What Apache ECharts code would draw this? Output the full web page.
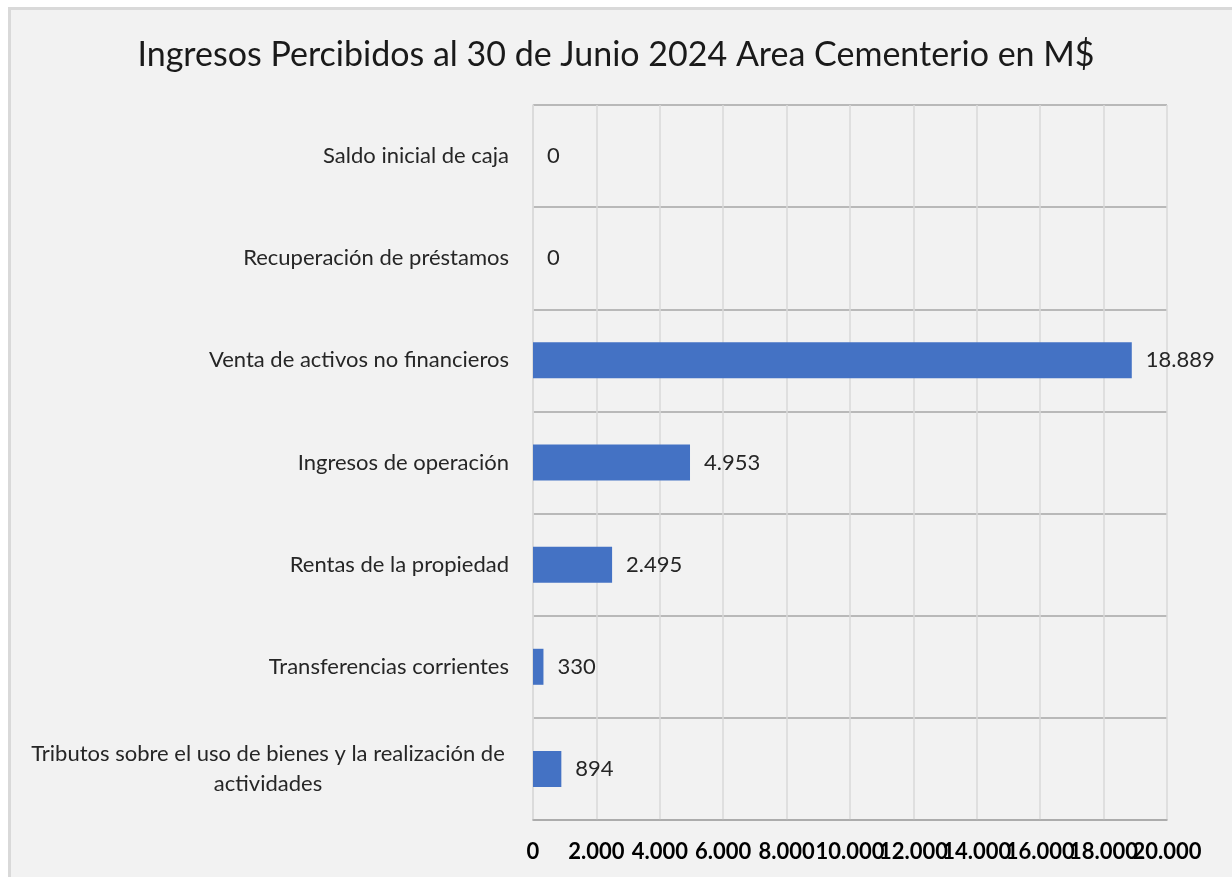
<!DOCTYPE html>
<html>
<head>
<meta charset="utf-8">
<script src="https://cdn.jsdelivr.net/npm/echarts@6/dist/echarts.min.js"></script>
<style>
  html, body { margin: 0; padding: 0; background: #ffffff; }
  .frame {
    position: absolute; left: 8px; top: 7px; width: 1224px; height: 870px;
    background: #f2f2f2; border-left: 3px solid #d9d9d9; border-top: 3px solid #d9d9d9;
    box-sizing: border-box;
  }
  #chart { position: absolute; left: 0; top: 0; width: 1232px; height: 877px; }
</style>
</head>
<body>
<div class="frame"></div>
<div id="chart"></div>
<script>
  // categorias de arriba hacia abajo
  const categories = [
    'Saldo inicial de caja',
    'Recuperación de préstamos',
    'Venta de activos no financieros',
    'Ingresos de operación',
    'Rentas de la propiedad',
    'Transferencias corrientes',
    'Tributos sobre el uso de bienes y la realización de actividades'
  ];
  const values = [0, 0, 18889, 4953, 2495, 330, 894];
  const xMin = 0;
  const xMax = 20000;
  const xStep = 2000;

  const fmt = v => String(v).replace(/\B(?=(\d{3})+(?!\d))/g, '.');
  const font = 'Lato, "Open Sans", sans-serif';
  const tickLabel = {
    margin: 21,
    fontFamily: font,
    fontSize: 22,
    fontWeight: 'bold',
    color: '#000000',
    hideOverlap: false
  };

  const chart = echarts.init(document.getElementById('chart'));
  const option = {
    backgroundColor: 'transparent',
    textStyle: { fontFamily: font },
    title: {
      text: 'Ingresos Percibidos al 30 de Junio 2024 Area Cementerio en M$',
      left: 'center',
      top: 33,
      textStyle: { fontFamily: font, fontSize: 34, fontWeight: 'normal', color: '#1a1a1a' }
    },
    grid: { left: 533, right: 65, top: 105, bottom: 57, containLabel: false },
    xAxis: [
      {
        type: 'value',
        min: xMin,
        max: xMax,
        interval: xStep,
        axisLine: { show: true, lineStyle: { color: '#a6a6a6', width: 1.5 } },
        axisTick: { show: false },
        splitLine: { show: true, lineStyle: { color: '#d9d9d9', width: 1.5 } },
        axisLabel: Object.assign({}, tickLabel, {
          showMinLabel: true,
          showMaxLabel: false,
          formatter: v => fmt(v)
        })
      },
      {
        // segundo eje solo para la etiqueta final, que el primero oculta por solaparse
        type: 'value',
        position: 'bottom',
        min: xMin,
        max: xMax,
        interval: xStep,
        axisLine: { show: false },
        axisTick: { show: false },
        splitLine: { show: false },
        axisLabel: Object.assign({}, tickLabel, {
          showMaxLabel: true,
          formatter: v => (v === xMax ? fmt(v) : '')
        })
      }
    ],
    yAxis: {
      type: 'category',
      inverse: true,
      data: categories,
      axisLine: { show: true, lineStyle: { color: '#d9d9d9', width: 1.5 } },
      axisTick: { show: false },
      splitLine: { show: true, lineStyle: { color: '#a6a6a6', width: 1.5 } },
      axisLabel: {
        margin: 24,
        fontFamily: font,
        fontSize: 22,
        color: '#262626',
        formatter: function (v) {
          if (v.length > 40) {
            const cut = v.lastIndexOf(' ', 52);
            return '{c|' + v.slice(0, cut) + '}\n{c|' + v.slice(cut + 1) + '}';
          }
          return v;
        },
        rich: {
          c: { width: 482, align: 'center', fontSize: 22, color: '#262626', fontFamily: font, lineHeight: 30 }
        }
      }
    },
    series: [
      {
        type: 'bar',
        xAxisIndex: 0,
        data: values,
        barWidth: 36,
        itemStyle: { color: '#4472c4' },
        label: {
          show: true,
          position: 'right',
          distance: 14,
          fontFamily: font,
          fontSize: 22,
          color: '#262626',
          formatter: p => fmt(p.value)
        }
      }
    ]
  };
  chart.setOption(option);
  window.addEventListener('resize', function () {
    chart.resize()
  })
</script>
</body>
</html>
